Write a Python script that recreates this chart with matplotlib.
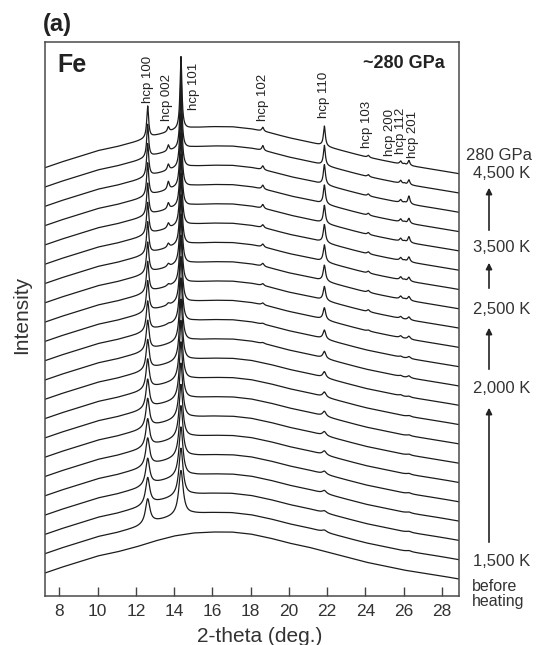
import numpy as np
import matplotlib.pyplot as plt
from matplotlib.patches import FancyArrowPatch
from matplotlib.transforms import blended_transform_factory

plt.rcParams['font.family'] = ['Liberation Sans', 'DejaVu Sans']

# background shape (2-theta, height) shared by every pattern
bg_theta = [7.25, 8, 9, 10, 11, 12, 13, 14, 15, 16, 17, 18, 19, 20,
            21, 22, 23, 24, 25, 26, 27, 28, 28.9]
bg_level = [0, 5, 11, 17, 21, 26, 32, 37, 40, 41, 41, 39, 35, 30,
            26, 21, 16, 11, 7, 3, 0, -3, -6]

# hcp reflections
peak_names = ['hcp 100', 'hcp 002', 'hcp 101', 'hcp 102', 'hcp 110',
              'hcp 103', 'hcp 200', 'hcp 112', 'hcp 201']
peak_pos = [12.62, 13.70, 14.36, 18.64, 21.86, 24.16, 25.85, 26.05, 26.28]

# peak heights per pattern, index 0 = before heating ... 21 = 4,500 K
h100 = [0, 25, 27, 27, 28, 28, 29, 29, 30, 30, 30, 30, 31, 31, 31, 32, 32, 32, 33, 33, 33, 32]
h002 = [0, 0, 0, 0, 0, 0, 0, 0, 0, 0, 0, 1, 2, 2, 3, 4, 5, 6, 8, 6, 6, 5]
h101 = [0, 45, 48, 50, 52, 54, 56, 58, 60, 62, 64, 66, 68, 70, 70, 72, 72, 74, 74, 75, 75, 73]
h102 = [0, 0, 0, 0, 0, 0, 0, 0, 0, 0, 1, 1, 2, 2, 3, 3, 3, 4, 4, 4, 5, 4]
h110 = [0, 2, 2, 3, 3, 4, 4, 5, 5, 6, 7, 9, 12, 14, 16, 17, 18, 18, 19, 20, 20, 20]
h103 = [0, 0, 0, 0, 0, 0, 0, 0, 0, 0, 0, 0, 1, 2, 2, 2, 2, 2, 2, 2, 2, 2]
h200 = [0, 0, 0, 0, 0, 0, 0, 0, 0, 1, 1, 1, 2, 2, 3, 3, 3, 3, 3, 3, 3, 3]
h112 = [0, 0, 0, 0, 0, 0, 0, 0, 0, 0, 0, 0, 0, 0, 1, 1, 1, 1, 1, 1, 1, 1]
h201 = [0, 1, 1, 1, 1, 1, 1, 1, 1, 1, 2, 2, 3, 3, 4, 4, 5, 6, 5, 8, 5, 5]
fwhm = [0.3, 0.28, 0.26, 0.25, 0.24, 0.23, 0.22, 0.21, 0.2, 0.19, 0.18,
        0.17, 0.16, 0.15, 0.15, 0.14, 0.14, 0.13, 0.13, 0.13, 0.12, 0.12]
step = 19.3

x_ticks = [8, 10, 12, 14, 16, 18, 20, 22, 24, 26, 28]

W, H = 538, 645
fig = plt.figure(figsize=(W / 100, H / 100), dpi=100)
ax = fig.add_axes([45 / W, 1 - 596 / H, (459 - 45) / W, (596 - 42) / H])

tt = np.arange(7.25, 28.91, 0.01)
background = np.interp(tt, bg_theta, bg_level)
heights = [h100, h002, h101, h102, h110, h103, h200, h112, h201]

for i in range(len(h100)):
    y = background + i * step
    for pos, hs in zip(peak_pos, heights):
        if hs[i] > 0:
            y = y + hs[i] / (1 + ((tt - pos) / (fwhm[i] / 2)) ** 2)
    ax.plot(tt, y, color='#1c1c1c', lw=0.9)

ax.set_xlim(7.25, 28.9)
ax.set_ylim(-23, 531)
ax.set_yticks([])
ax.set_xticks(x_ticks)
ax.tick_params(axis='x', direction='in', length=6.5, width=1.0,
               color='#444444', labelsize=12.5, labelcolor='#333333', pad=6)
for s in ax.spines.values():
    s.set_color('#4a4a4a')
    s.set_linewidth(1.1)

fig.text(260 / W, 1 - 636 / H, '2-theta (deg.)', ha='center', va='center',
         fontsize=15, color='#333333')
fig.text(22 / W, 1 - 315 / H, 'Intensity', ha='center', va='center',
         rotation=90, fontsize=15, color='#333333')
fig.text(43 / W, 1 - 25 / H, '(a)', ha='left', va='center',
         fontsize=17, fontweight='bold', color='#222222')
fig.text(57 / W, 1 - 65 / H, 'Fe', ha='left', va='center',
         fontsize=18, fontweight='bold', color='#222222')
fig.text(445 / W, 1 - 64 / H, '~280 GPa', ha='right', va='center',
         fontsize=13, fontweight='bold', color='#222222')

# peak labels
lab_theta = [12.64, 13.63, 15.04, 18.65, 21.84, 24.09, 25.29, 25.89, 26.47]
lab_bottom = [103, 121, 110, 121, 118, 148, 156, 154, 158]
trans = blended_transform_factory(ax.transData, fig.transFigure)
for name, xt, yb in zip(peak_names, lab_theta, lab_bottom):
    ax.text(xt, 1 - yb / H, name, transform=trans, rotation=90,
            ha='center', va='bottom', fontsize=9.5, color='#222222')

# right-hand temperature labels
fig.text(466 / W, 1 - 155 / H, '280 GPa', ha='left', va='center',
         fontsize=12, color='#333333')
for lab, yc in [('4,500 K', 173), ('3,500 K', 248), ('2,500 K', 310),
                ('2,000 K', 388), ('1,500 K', 562)]:
    fig.text(473 / W, 1 - yc / H, lab, ha='left', va='center',
             fontsize=12, color='#333333')
fig.text(472 / W, 1 - 594 / H, 'before\nheating', ha='left', va='center',
         fontsize=11.5, color='#333333', linespacing=1.0)

for y0, y1 in [(233, 185), (291, 260), (372, 325), (545, 405)]:
    arr = FancyArrowPatch((489 / W, 1 - y0 / H), (489 / W, 1 - y1 / H),
                          transform=fig.transFigure, arrowstyle='-|>',
                          mutation_scale=9, lw=1.2, color='#222222')
    fig.patches.append(arr)

fig.savefig('out.png', dpi=100)
